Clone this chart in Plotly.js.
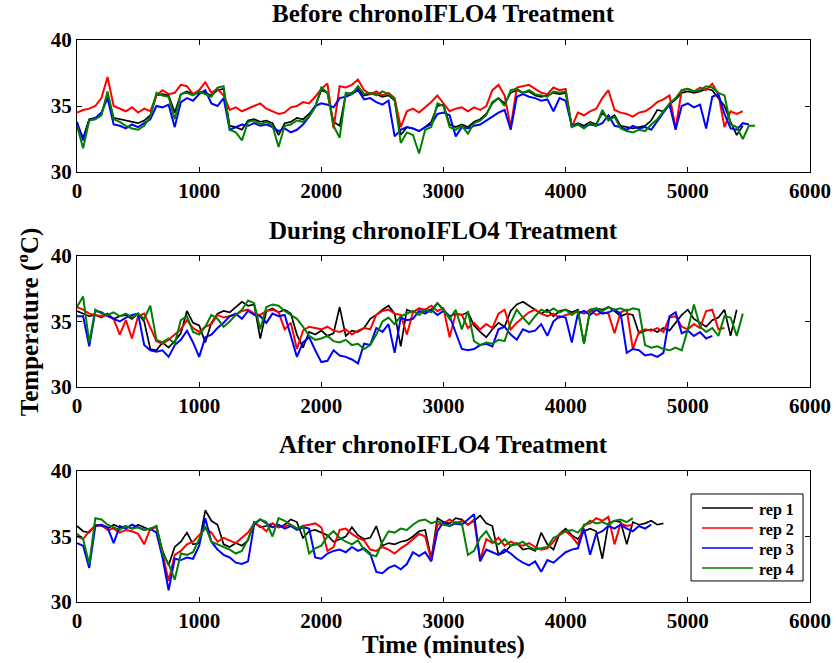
<!DOCTYPE html>
<html>
<head>
<meta charset="utf-8">
<script src="https://cdn.plot.ly/plotly-3.0.1.min.js"></script>
<style>
  html, body { margin: 0; padding: 0; background: #fff; }
  #chart { width: 836px; height: 663px; }
</style>
</head>
<body>
<div id="chart"></div>
<script>
// Body temperature (deg C) of four replicates, logged every 50 minutes.
const STEP_MIN = 50;

const seriesNames = ['rep 1', 'rep 2', 'rep 3', 'rep 4'];
const seriesColors = ['#000000', '#ff0000', '#0000ff', '#008000'];
const panelTitles = ['Before chronoIFLO4 Treatment', 'During chronoIFLO4 Treatment', 'After chronoIFLO4 Treatment'];
const xTicks = [0, 1000, 2000, 3000, 4000, 5000, 6000];
const yTicks = [30, 35, 40];

// ---- Before treatment ----
const before_rep1 = [33.6,32.6,34.0,34.1,34.4,35.9,34.1,34.0,33.9,33.8,
 33.7,33.9,34.3,35.8,35.9,35.8,34.5,35.9,36.1,35.9,
 36.0,36.0,35.8,36.2,36.3,33.5,33.4,33.2,33.9,34.0,
 33.8,33.9,33.7,32.8,33.7,33.8,34.1,34.0,34.4,35.0,
 36.2,36.0,33.8,33.5,35.9,36.0,36.3,35.8,35.9,35.9,
 35.7,35.8,35.4,32.8,33.4,33.3,33.1,33.4,33.8,35.0,
 35.1,33.6,33.4,33.6,33.4,33.8,34.0,34.4,35.2,35.6,
 35.2,36.0,36.2,36.0,36.1,35.8,35.7,35.8,36.0,35.9,
 36.0,33.5,33.7,33.5,33.8,33.6,34.5,34.0,34.3,33.5,
 33.4,33.3,33.4,33.5,33.9,34.7,34.6,35.1,35.5,36.0,
 36.1,36.0,36.1,36.3,36.2,35.6,35.0,33.8,32.8,33.5];
const before_rep2 = [34.5,34.7,34.8,35.0,35.6,37.2,35.0,34.8,34.6,34.9,
 34.5,34.8,34.6,35.8,36.2,35.9,36.0,36.6,36.5,35.9,
 36.2,36.8,36.0,36.3,35.8,34.7,34.9,34.6,34.8,35.0,
 35.2,34.8,34.6,34.4,34.5,34.9,35.0,35.3,35.2,35.7,
 36.3,36.7,33.3,36.5,36.4,36.6,37.0,36.2,35.9,36.1,
 35.8,36.0,35.6,33.4,34.6,34.8,34.5,34.9,35.3,35.8,
 35.2,34.6,34.8,34.9,34.6,34.9,34.7,35.0,36.2,36.6,
 35.8,33.4,36.4,36.5,36.6,36.3,36.0,35.9,36.4,36.2,
 36.3,33.4,34.5,34.3,34.6,34.8,35.6,36.2,34.7,34.5,
 34.4,34.2,34.5,34.6,34.9,35.3,35.5,35.8,33.3,36.2,
 36.3,36.1,36.4,36.2,36.7,35.9,33.4,34.6,34.4,34.6];
const before_rep3 = [33.8,32.4,33.9,34.1,34.5,35.6,33.6,33.5,33.3,33.6,
 33.4,33.7,34.0,35.0,34.9,35.1,33.4,35.3,35.6,35.4,
 35.9,36.2,35.2,35.0,35.6,33.2,33.4,33.6,33.5,33.7,
 33.5,33.6,33.4,33.1,33.3,33.0,33.2,33.6,34.2,35.0,
 35.2,35.1,34.9,35.6,35.7,35.9,36.2,35.5,35.6,35.3,
 35.1,35.4,32.7,33.2,33.4,33.3,33.1,33.4,33.6,34.4,
 34.5,34.3,32.7,33.4,33.3,33.5,33.6,33.9,34.2,34.5,
 34.7,33.2,35.7,35.9,35.7,35.6,35.4,35.5,34.6,35.6,
 35.4,33.5,33.6,33.4,33.6,33.5,33.7,34.3,33.5,33.4,
 33.2,33.5,33.3,33.4,33.2,33.9,34.5,35.1,33.2,35.0,
 35.2,34.9,35.1,33.3,35.7,35.9,34.4,33.3,33.2,33.7,
 33.6];
const before_rep4 = [33.5,31.8,33.9,34.0,34.3,36.1,34.0,33.8,33.5,33.3,
 33.2,33.5,34.2,36.0,35.8,35.7,34.0,35.9,36.0,35.8,
 36.1,35.9,35.7,36.4,36.5,33.2,33.0,32.4,33.8,33.9,
 33.6,33.8,33.5,31.9,33.5,33.6,33.9,33.8,34.2,34.9,
 36.4,36.0,33.5,32.6,36.0,35.9,36.5,35.9,36.0,35.8,
 36.1,35.9,35.5,32.2,33.0,32.8,31.4,33.2,33.4,35.2,
 35.0,33.4,33.2,33.5,32.9,33.7,33.9,34.3,35.3,35.6,
 35.0,36.2,36.3,36.0,36.2,35.9,35.8,35.7,36.1,36.0,
 36.1,33.4,33.6,33.3,33.7,33.5,34.7,33.9,34.2,33.3,
 33.1,33.0,33.2,33.1,33.6,34.0,34.6,35.2,35.6,36.2,
 36.3,36.1,36.2,36.5,36.4,36.0,35.8,33.6,33.4,32.5,
 33.5,33.5];

// ---- During treatment ----
const during_rep1 = [35.8,35.6,35.4,35.5,35.3,35.6,35.2,35.4,35.5,35.2,
 35.6,35.0,32.9,32.8,33.4,33.0,33.5,34.1,35.8,34.9,
 34.7,33.4,34.9,35.6,35.8,35.7,36.1,36.5,36.2,36.3,
 33.7,35.8,36.0,35.7,35.9,35.6,34.0,33.0,34.2,34.0,
 34.3,33.9,34.1,36.1,33.9,34.3,34.2,34.5,35.2,35.5,
 35.9,36.2,35.6,33.1,35.9,35.7,36.0,35.8,35.9,36.4,
 35.9,35.4,35.6,35.5,35.7,34.7,34.2,33.8,34.4,34.9,
 34.6,35.8,36.3,36.5,36.2,35.9,35.6,35.9,35.4,35.8,
 35.9,35.7,35.9,33.3,35.8,36.0,35.9,36.1,35.8,35.4,
 35.6,35.5,34.1,34.3,34.4,34.2,34.5,34.3,34.9,35.5,
 35.9,35.2,34.9,34.6,35.1,35.3,35.9,33.9,35.9];
const during_rep2 = [36.1,35.9,35.6,35.5,35.4,35.5,35.2,34.0,35.1,33.7,
 35.4,35.6,34.5,33.5,33.3,33.6,34.0,34.4,35.1,34.5,
 34.2,34.6,34.8,35.5,35.3,35.4,35.5,35.8,35.9,35.6,
 35.5,35.8,35.9,35.7,34.4,34.9,32.9,34.3,34.6,34.5,
 34.4,34.6,34.3,34.2,34.4,34.0,34.3,34.5,34.4,35.5,
 35.8,35.9,35.6,35.5,34.0,35.7,36.0,35.9,36.2,35.8,
 36.0,33.8,35.6,35.5,34.5,34.9,34.4,34.8,34.5,35.6,
 35.9,34.4,34.9,35.3,35.7,35.9,35.6,35.4,35.6,35.3,
 35.5,35.6,35.8,35.6,35.9,35.5,35.7,35.6,34.1,35.7,
 35.9,32.9,34.2,34.4,34.3,34.5,34.2,35.3,35.4,34.6,
 34.4,34.8,34.5,35.8,35.9,34.4,34.5];
const during_rep3 = [35.4,35.4,33.1,35.8,35.7,35.4,35.2,35.0,35.3,35.5,
 35.6,33.2,32.8,32.7,32.8,32.3,33.2,33.6,34.3,33.4,
 32.3,33.8,34.0,34.5,34.9,35.4,35.6,35.2,35.8,35.5,
 35.4,34.9,35.6,35.4,35.5,33.9,32.3,33.4,33.8,32.8,
 31.9,32.0,32.8,32.4,32.3,32.1,31.8,33.3,33.2,34.5,
 34.2,34.8,32.6,35.3,35.1,35.2,35.8,35.6,35.9,35.5,
 35.8,35.4,34.1,32.9,32.8,32.9,33.2,33.3,33.1,34.4,
 34.6,34.0,33.6,34.4,34.2,34.3,34.8,33.9,35.0,35.4,
 35.3,33.4,35.6,35.8,35.5,35.9,35.6,35.7,35.9,35.6,
 32.6,32.9,32.8,32.4,32.5,32.3,32.6,35.4,35.7,34.1,
 34.3,33.9,34.2,33.7,33.9];
const during_rep4 = [36.1,36.9,33.4,35.9,35.6,35.5,35.7,35.4,35.6,35.3,
 35.6,35.2,36.2,33.6,33.4,33.7,33.3,35.1,35.4,34.2,
 34.0,34.6,35.5,35.2,34.6,35.0,35.5,35.9,36.6,36.4,
 34.4,36.1,36.3,36.2,35.8,35.5,35.2,34.6,33.9,33.6,
 33.7,33.9,33.5,33.4,33.6,33.2,33.3,32.9,33.2,34.0,
 35.0,35.3,34.8,35.4,35.6,35.8,35.5,35.9,35.7,36.4,
 35.9,35.2,35.9,34.4,35.8,33.5,33.2,33.4,33.3,33.6,
 33.5,34.9,35.9,35.3,34.8,35.4,35.9,35.7,36.0,35.7,
 35.9,35.5,35.8,33.3,35.9,36.0,35.8,36.1,35.9,36.0,
 35.8,36.0,35.9,33.2,33.0,33.1,32.9,32.8,33.0,32.8,
 34.4,36.3,34.6,34.2,34.5,33.9,35.4,35.3,33.9,35.6];

// ---- After treatment ----
const after_rep1 = [35.8,35.4,35.3,35.9,35.8,35.6,35.9,35.7,35.8,35.6,
 35.9,35.7,35.5,35.8,33.9,32.8,34.2,34.6,35.3,34.4,
 34.5,37.0,36.2,35.9,34.4,34.2,34.5,34.3,34.7,36.1,
 35.7,35.8,36.0,35.7,35.9,36.3,36.1,34.9,35.4,35.5,
 35.3,35.1,34.6,34.8,35.0,35.7,35.1,34.8,34.9,35.8,
 34.3,34.5,34.4,34.6,34.7,35.0,35.4,35.5,33.3,36.4,
 36.1,36.0,36.4,36.3,35.9,36.2,36.6,36.0,35.8,33.6,
 33.8,34.3,34.5,34.0,34.1,33.9,35.3,34.4,34.0,35.2,
 35.6,35.1,34.8,35.4,35.6,35.4,33.3,36.0,36.2,36.1,
 34.4,36.1,35.9,36.0,36.2,35.9,36.0];
const after_rep2 = [35.0,34.8,35.4,35.8,35.9,35.5,35.6,35.3,35.5,35.4,
 35.2,34.4,35.6,35.7,33.7,31.6,33.6,33.9,34.4,34.6,
 35.1,35.6,35.3,34.6,34.9,34.7,34.5,34.9,35.3,36.0,
 35.8,35.4,36.0,35.7,35.8,35.9,35.6,35.8,35.9,36.0,
 35.7,33.9,34.2,35.5,35.6,35.2,34.9,34.7,34.0,33.9,
 34.2,34.0,33.7,34.1,34.4,34.8,35.2,35.0,33.2,35.9,
 36.0,36.3,36.0,36.2,35.9,36.3,33.2,34.8,34.5,34.9,
 34.3,34.6,34.4,34.3,34.5,34.2,34.0,34.1,34.6,35.2,
 35.4,35.0,34.4,35.9,36.0,36.4,36.2,36.5,34.4,36.0,
 35.8,35.9];
const after_rep3 = [34.5,34.3,32.6,35.8,35.9,35.7,34.5,35.8,35.6,35.9,
 35.7,35.5,35.6,35.3,33.4,30.9,33.3,33.2,33.4,33.3,
 34.3,36.4,34.6,34.0,33.6,33.4,33.0,32.9,33.1,35.9,
 36.3,36.0,35.7,35.9,35.6,35.8,35.5,35.7,35.6,33.4,
 33.3,33.7,33.9,34.0,33.8,34.2,33.9,34.1,33.7,32.3,
 32.2,32.6,32.8,32.5,32.9,33.8,33.5,33.8,33.1,35.4,
 36.1,35.8,36.0,35.9,36.3,36.7,33.1,34.0,33.8,33.6,
 34.0,33.7,33.3,33.0,32.8,33.1,32.3,33.2,33.0,33.4,
 33.8,34.0,34.1,35.6,33.6,35.2,35.4,35.8,35.6,35.9,
 35.6,35.4,35.8,35.6,35.9];
const after_rep4 = [35.2,34.8,32.9,36.4,36.3,35.9,35.7,35.5,35.8,35.6,
 35.7,35.5,35.6,35.8,33.7,32.9,31.7,33.7,33.6,33.8,
 34.8,35.8,34.6,34.4,34.2,34.0,33.7,33.9,34.8,36.0,
 36.3,36.1,35.0,36.4,36.2,35.9,35.6,35.8,33.7,34.1,
 34.3,35.0,35.4,34.9,34.6,34.4,34.7,34.0,33.6,33.5,
 34.6,35.4,35.3,35.6,35.5,35.9,36.2,36.3,36.0,36.2,
 35.9,35.8,36.1,36.0,33.6,33.9,34.9,35.4,34.6,34.4,
 34.8,34.3,34.4,34.6,34.2,34.0,34.1,34.2,34.9,35.1,
 35.4,35.5,35.3,35.8,36.2,36.0,36.1,35.9,36.2,36.3,
 36.1,36.4];

const panels = [
  [before_rep1, before_rep2, before_rep3, before_rep4],
  [during_rep1, during_rep2, during_rep3, during_rep4],
  [after_rep1, after_rep2, after_rep3, after_rep4]
];

// Sample times in minutes for a series of n readings
function sampleTimes(n) {
  const t = [];
  for (let i = 0; i < n; i++) t.push(i * STEP_MIN);
  return t;
}

const FONT = 'Liberation Serif, Times New Roman, serif';

const traces = [];
panels.forEach((series, p) => {
  const sfx = p === 0 ? '' : String(p + 1);
  series.forEach((vals, s) => {
    traces.push({
      type: 'scatter',
      mode: 'lines',
      x: sampleTimes(vals.length),
      y: vals,
      xaxis: 'x' + sfx,
      yaxis: 'y' + sfx,
      name: seriesNames[s],
      showlegend: false,
      line: { color: seriesColors[s], width: s === 0 ? 1.7 : 2 },
      hoverinfo: 'skip'
    });
  });
});

function xAxis(anchor) {
  return {
    anchor: anchor, domain: [0, 1], range: [0, 6000],
    tickvals: xTicks, ticktext: xTicks.map(String),
    ticks: 'inside', ticklen: 5, tickcolor: '#000', tickwidth: 1,
    showline: true, linecolor: '#000', linewidth: 1, mirror: 'ticks',
    showgrid: false, zeroline: false,
    tickfont: { family: FONT, size: 21, color: '#000', weight: 'bold' }
  };
}
function yAxis(anchor, domain) {
  return {
    anchor: anchor, domain: domain, range: [30, 40],
    tickvals: yTicks, ticktext: yTicks.map(String),
    ticks: 'inside', ticklen: 5, tickcolor: '#000', tickwidth: 1,
    showline: true, linecolor: '#000', linewidth: 1, mirror: 'ticks',
    showgrid: false, zeroline: false,
    tickfont: { family: FONT, size: 21, color: '#000', weight: 'bold' }
  };
}

const titleFont = { family: FONT, size: 25, color: '#000', weight: 'bold' };
const titleY = [1.0463, 0.6619, 0.2794];

const annotations = panelTitles.map((txt, i) => ({
  text: txt, xref: 'paper', yref: 'paper', x: 0.5, y: titleY[i],
  xanchor: 'center', yanchor: 'middle', showarrow: false, font: titleFont
}));
annotations.push({
  text: 'Time (minutes)', xref: 'paper', yref: 'paper', x: 0.5, y: -0.0765,
  xanchor: 'center', yanchor: 'middle', showarrow: false, font: titleFont
});
annotations.push({
  text: 'Temperature (<sup>o</sup>C)', xref: 'paper', yref: 'paper', x: -0.0668, y: 0.498,
  xanchor: 'center', yanchor: 'middle', textangle: -90, showarrow: false, font: titleFont
});

// Legend box in the lower panel: frame, colour keys and labels
const legendBox = { x0: 0.8377, x1: 0.9905, y0: 0.0374, y1: 0.1922 };
const legendKeyX = [0.8527, 0.9222];
const legendLabelX = 0.9277;
const legendRowY = [0.1673, 0.1317, 0.0961, 0.0605];

const shapes = [{
  type: 'rect', xref: 'paper', yref: 'paper',
  x0: legendBox.x0, x1: legendBox.x1, y0: legendBox.y0, y1: legendBox.y1,
  line: { color: '#000', width: 1 }, fillcolor: '#fff', layer: 'above'
}];
seriesNames.forEach((nm, s) => {
  shapes.push({
    type: 'line', xref: 'paper', yref: 'paper',
    x0: legendKeyX[0], x1: legendKeyX[1], y0: legendRowY[s], y1: legendRowY[s],
    line: { color: seriesColors[s], width: 1.5 }, layer: 'above'
  });
  annotations.push({
    text: nm, xref: 'paper', yref: 'paper', x: legendLabelX, y: legendRowY[s] - 0.003,
    xanchor: 'left', yanchor: 'middle', showarrow: false,
    font: { family: FONT, size: 16, color: '#000', weight: 'bold' }
  });
});

const layout = {
  width: 836, height: 663,
  margin: { l: 77, r: 26, t: 40, b: 61, pad: 0 },
  paper_bgcolor: '#fff', plot_bgcolor: '#fff',
  showlegend: false,
  xaxis: xAxis('y'), yaxis: yAxis('x', [0.7651, 1]),
  xaxis2: xAxis('y2'), yaxis2: yAxis('x2', [0.3826, 0.6157]),
  xaxis3: xAxis('y3'), yaxis3: yAxis('x3', [0, 0.2331]),
  shapes: shapes,
  annotations: annotations
};

Plotly.newPlot('chart', traces, layout, { staticPlot: true, displayModeBar: false });
</script>
</body>
</html>
